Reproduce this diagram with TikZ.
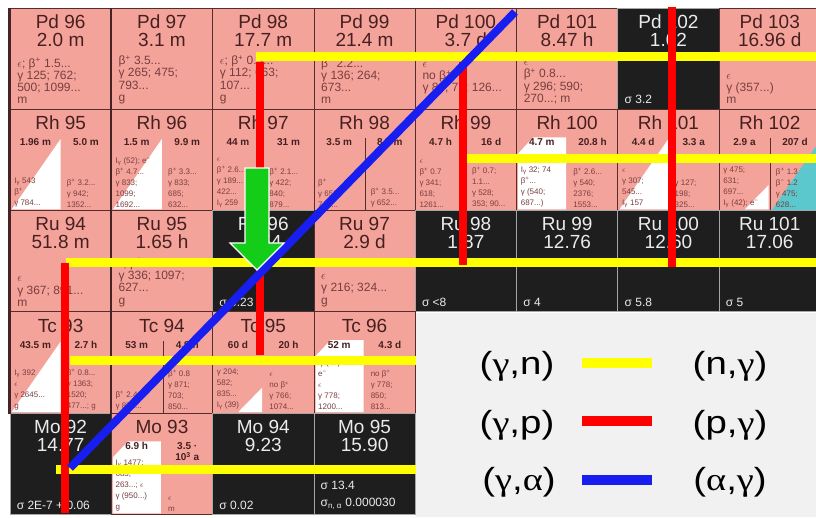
\documentclass[tikz,border=0pt]{standalone}
\usepackage{fontspec}
\setmainfont{Liberation Sans}
\newfontfamily\greekfont{Liberation Serif}
\usepackage{graphicx}
\usetikzlibrary{calc}

\definecolor{chartpink}{RGB}{244,163,155}
\definecolor{chartblack}{RGB}{30,30,30}
\definecolor{chartcyan}{RGB}{90,200,205}
\definecolor{cellline}{RGB}{85,45,45}
\definecolor{inkdark}{RGB}{70,32,32}
\definecolor{inksoft}{RGB}{120,62,62}
\definecolor{stabletext}{RGB}{235,235,235}
\definecolor{pathyellow}{RGB}{255,255,0}
\definecolor{pathred}{RGB}{255,0,0}
\definecolor{pathblue}{RGB}{25,30,240}
\definecolor{arrowgreen}{RGB}{20,205,25}
\definecolor{legendbg}{RGB}{241,241,241}

\newcommand{\bplus}{β\textsuperscript{+}}
\newcommand{\bminus}{β\textsuperscript{−}}
\newcommand{\eminus}{e\textsuperscript{−}}
\newcommand{\epsl}{$\epsilon$}
\newcommand{\itrans}{I\textsubscript{γ}}
\newcommand{\legtext}[1]{\scalebox{1.2}[1]{#1}}

\tikzset{
  cellbox/.style={draw=cellline, line width=0.8pt, fill=chartpink,
    minimum width=101.3pt, minimum height=101.3pt, inner sep=0pt},
  stablebox/.style={cellbox, draw=gray!70, fill=chartblack},
  nuclide/.style={inner sep=0pt, text=inkdark, font=\fontsize{19}{21}\selectfont},
  halflife/.style={inner sep=0pt, anchor=north, align=center, text=inkdark,
    font=\bfseries\fontsize{10}{11.5}\selectfont},
  decaytext/.style={inner sep=0pt, anchor=south west, align=left, text=inksoft,
    font=\fontsize{12}{12.3}\selectfont},
  isodecay/.style={decaytext, font=\fontsize{8}{11}\selectfont},
  sigmatext/.style={decaytext, text=stabletext},
  magic/.style={draw=cellline!80!black, line width=2.5pt},
  gnpath/.style={draw=pathyellow, line width=9pt},
  gppath/.style={draw=pathred, line width=8pt},
  gapath/.style={draw=pathblue, line width=8pt},
  legend/.style={inner sep=0pt, font=\fontsize{32}{36}\selectfont},
}

% col, row, name, nuclide, half-life, decay lines
\newcommand{\unstablecell}[6]{%
  \node[cellbox] (#3) at ({60.65+101.3*#1},{458.35-101.3*#2}) {};
  \node[nuclide] (#3-name) at ([yshift=-14pt]#3.north) {#4};
  \node[nuclide] (#3-life) at ([yshift=-32pt]#3.north) {#5};
  \node[decaytext] (#3-decay) at ([xshift=7.5pt,yshift=5.5pt]#3.south west) {#6};
}
% col, row, name, nuclide, abundance, cross section
\newcommand{\stablecell}[6]{%
  \node[stablebox] (#3) at ({60.65+101.3*#1},{458.35-101.3*#2}) {};
  \node[nuclide, text=stabletext] (#3-name) at ([yshift=-14pt]#3.north) {#4};
  \node[nuclide, text=stabletext] (#3-abund) at ([yshift=-32pt]#3.north) {#5};
  \node[sigmatext] (#3-sigma) at ([xshift=7pt,yshift=5.5pt]#3.south west) {#6};
}
% col, row, name, nuclide, isomer, ground state, isomer decay, ground decay, extras
\newcommand{\isomercell}[9]{%
  \node[cellbox] (#3) at ({60.65+101.3*#1},{458.35-101.3*#2}) {};
  #9
  \node[nuclide] (#3-name) at ([yshift=-14pt]#3.north) {#4};
  \node[halflife] (#3-iso) at ([xshift=-25.3pt,yshift=-29.5pt]#3.north) {#5};
  \node[halflife] (#3-gs) at ([xshift=25.3pt,yshift=-29.5pt]#3.north) {#6};
  \node[isodecay] (#3-isodecay) at ([xshift=4.5pt,yshift=3.5pt]#3.south west) {#7};
  \node[isodecay] (#3-gsdecay) at ([xshift=6pt,yshift=3.5pt]#3.south) {#8};
}
\newcommand{\lowtri}[1]{\fill[white] ($(#1.south west)+(2,1.5)$) -- ($(#1.south west)+(51,72)$) -- ($(#1.south west)+(51,1.5)$) -- cycle;}
\newcommand{\smalltri}[1]{\fill[white] ($(#1.south west)+(26,1.5)$) -- ($(#1.south west)+(50,26)$) -- ($(#1.south west)+(50,1.5)$) -- cycle;}
\newcommand{\cutrect}[1]{\fill[white] ($(#1.south west)+(2,1.5)$) -- ++(0,56) -- ++(15,16) -- ($(#1.south west)+(50,73.5)$) -- ($(#1.south west)+(50,1.5)$) -- cycle;}
\newcommand{\halfline}[1]{\draw[cellline, line width=0.6pt] ($(#1.south west)+(52,0)$) -- ++(0,73);}

\begin{document}
\begin{tikzpicture}[x=1pt,y=1pt]
\useasboundingbox (0,0) rectangle (816,517);
\fill[white] (0,0) rectangle (816,517);

% Pd
\unstablecell{0}{0}{pd96}{Pd 96}{2.0 m}{\epsl; \bplus{} 1.5...\\γ 125; 762;\\500; 1099...\\m}
\unstablecell{1}{0}{pd97}{Pd 97}{3.1 m}{\bplus{} 3.5...\\γ 265; 475;\\793...\\g}
\unstablecell{2}{0}{pd98}{Pd 98}{17.7 m}{\epsl; \bplus{} 0.9...\\γ 112; 663;\\107...\\g}
\unstablecell{3}{0}{pd99}{Pd 99}{21.4 m}{\bplus{} 2.2...\\γ 136; 264;\\673...\\m}
\unstablecell{4}{0}{pd100}{Pd 100}{3.7 d}{\epsl\\no \bplus\\γ 84; 75; 126...\\\mbox{}}
\unstablecell{5}{0}{pd101}{Pd 101}{8.47 h}{\epsl\\\bplus{} 0.8...\\γ 296; 590;\\270...; m}
\stablecell{6}{0}{pd102}{Pd 102}{1.02}{σ 3.2}
\unstablecell{7}{0}{pd103}{Pd 103}{16.96 d}{\epsl\\γ (357...)\\m}

% Rh
\isomercell{0}{1}{rh95}{Rh 95}{1.96 m}{5.0 m}{\itrans{} 543\\\bplus\\γ 784...}{\bplus{} 3.2...\\γ 942;\\1352...}{\lowtri{rh95}}
\isomercell{1}{1}{rh96}{Rh 96}{1.5 m}{9.9 m}{\itrans{} (52); \eminus\\\bplus{} 4.7...\\γ 833;\\1099;\\1692...}{\bplus{} 3.3...\\γ 833;\\685;\\632...}{\lowtri{rh96}}
\isomercell{2}{1}{rh97}{Rh 97}{44 m}{31 m}{\epsl\\\bplus{} 2.6...\\γ 189...\\422...\\\itrans{} 259}{\bplus{} 2.1...\\γ 422;\\840;\\879...}{}
\isomercell{3}{1}{rh98}{Rh 98}{3.5 m}{8.7 m}{\bplus\\γ 652;\\745...}{\bplus{} 3.5...\\γ 652...}{\halfline{rh98}}
\isomercell{4}{1}{rh99}{Rh 99}{4.7 h}{16 d}{\epsl\\\bplus{} 0.7\\γ 341;\\618;\\1261...}{\bplus{} 0.7;\\1.1...\\γ 528;\\353; 90...}{}
\isomercell{5}{1}{rh100}{Rh 100}{4.7 m}{20.8 h}{\itrans{} 32; 74\\\bplus...\\γ (540;\\687...)}{\bplus{} 2.6...\\γ 540;\\2376;\\1553...}{\cutrect{rh100}}
\isomercell{6}{1}{rh101}{Rh 101}{4.4 d}{3.3 a}{\epsl\\γ 307;\\545...\\\itrans{} 157}{γ 127;\\198;\\325...}{\lowtri{rh101}}
\isomercell{7}{1}{rh102}{Rh 102}{2.9 a}{207 d}{γ 475;\\631;\\697...\\\itrans{} (42); \eminus}{\bplus{} 1.3\\\bminus{} 1.2\\γ 475;\\628...}{\smalltri{rh102}
  \fill[chartcyan] ($(rh102.south west)+(53,1)$) -- ($(rh102.south west)+(101,70)$) -- ($(rh102.south west)+(101,1)$) -- cycle;
  \halfline{rh102}}

% Ru
\unstablecell{0}{2}{ru94}{Ru 94}{51.8 m}{\epsl\\γ 367; 891...\\m}
\unstablecell{1}{2}{ru95}{Ru 95}{1.65 h}{\epsl; \bplus{} 1.2...\\γ 336; 1097;\\627...\\g}
\stablecell{2}{2}{ru96}{Ru 96}{5.54}{σ 0.23}
\unstablecell{3}{2}{ru97}{Ru 97}{2.9 d}{\epsl\\γ 216; 324...\\g}
\stablecell{4}{2}{ru98}{Ru 98}{1.87}{σ <8}
\stablecell{5}{2}{ru99}{Ru 99}{12.76}{σ 4}
\stablecell{6}{2}{ru100}{Ru 100}{12.60}{σ 5.8}
\stablecell{7}{2}{ru101}{Ru 101}{17.06}{σ 5}

% Tc
\isomercell{0}{3}{tc93}{Tc 93}{43.5 m}{2.7 h}{\itrans{} 392\\\epsl\\γ 2645...\\g}{\bplus{} 0.8...\\γ 1363;\\1520;\\477...; g}{\lowtri{tc93}}
\isomercell{1}{3}{tc94}{Tc 94}{53 m}{4.9 h}{\bplus{} 2.4...\\γ 871...}{\bplus{} 0.8\\γ 871;\\703;\\850...}{\halfline{tc94}}
\isomercell{2}{3}{tc95}{Tc 95}{60 d}{20 h}{γ 204;\\582;\\835...\\\itrans{} (39)}{\epsl\\no \bplus\\γ 766;\\1074...}{\smalltri{tc95}}
\isomercell{3}{3}{tc96}{Tc 96}{52 m}{4.3 d}{\itrans{} (34)\\\eminus\\\epsl\\γ 778;\\1200...}{\epsl\\no \bplus\\γ 778;\\850;\\813...}{\cutrect{tc96}}

% Mo
\stablecell{0}{4}{mo92}{Mo 92}{14.77}{σ 2E-7 + 0.06}
\isomercell{1}{4}{mo93}{Mo 93}{6.9 h}{3.5 ·\\10\textsuperscript{3} a}{\itrans{} 1477;\\685;\\263...; \epsl\\γ (950...)\\g}{\epsl\\m}{\cutrect{mo93}}
\stablecell{2}{4}{mo94}{Mo 94}{9.23}{σ 0.02}
\stablecell{3}{4}{mo95}{Mo 95}{15.90}{σ 13.4\\[5pt]σ\textsubscript{n, α} 0.000030}

\draw[magic] (pd96.north west) -- (tc93.south west);
\draw[magic] (pd97.north west) -- (tc94.south west);

% legend
\fill[legendbg] (416,0) rectangle (816,204);
\node[legend] (gn-left) at (517,151) {\legtext{({\greekfont γ},n)}};
\node[legend] (gn-right) at (730,151) {\legtext{(n,{\greekfont γ})}};
\node[legend] (gp-left) at (517,92) {\legtext{({\greekfont γ},p)}};
\node[legend] (gp-right) at (730,92) {\legtext{(p,{\greekfont γ})}};
\node[legend] (ga-left) at (519,35) {\legtext{({\greekfont γ},{\greekfont α})}};
\node[legend] (ga-right) at (730,35) {\legtext{({\greekfont α},{\greekfont γ})}};
\coordinate (gn-key-a) at (582,154);
\coordinate (gn-key-b) at (652,154);
\coordinate (gp-key-a) at (582,96);
\coordinate (gp-key-b) at (652,96);
\coordinate (ga-key-a) at (582,37);
\coordinate (ga-key-b) at (652,37);
\draw[gnpath, line width=10pt] (gn-key-a) -- (gn-key-b);
\draw[gppath, line width=10pt] (gp-key-a) -- (gp-key-b);
\draw[gapath, line width=10pt] (ga-key-a) -- (ga-key-b);

% reaction paths
\coordinate (gn1a) at (256,460);
\coordinate (gn1b) at (816,460);
\coordinate (gn2a) at (459,358);
\coordinate (gn2b) at (816,358);
\coordinate (gn3a) at (66,254);
\coordinate (gn3b) at (816,254);
\coordinate (gn4a) at (70,157);
\coordinate (gn4b) at (416,157);
\coordinate (gn5a) at (56,48);
\coordinate (gn5b) at (416,48);
\coordinate (gp1a) at (260,455);
\coordinate (gp1b) at (260,162);
\coordinate (gp2a) at (463,455);
\coordinate (gp2b) at (463,252);
\coordinate (gp3a) at (672,510);
\coordinate (gp3b) at (672,250);
\coordinate (gp4a) at (65,254);
\coordinate (gp4b) at (65,4);
\coordinate (ga-a) at (70,49);
\coordinate (ga-b) at (515,505);
\draw[gnpath] (gn1a) -- (gn1b);
\draw[gnpath] (gn2a) -- (gn2b);
\draw[gnpath] (gn3a) -- (gn3b);
\draw[gnpath] (gn4a) -- (gn4b);
\draw[gnpath] (gn5a) -- (gn5b);
\draw[gppath] (gp1a) -- (gp1b);
\draw[gppath] (gp2a) -- (gp2b);
\draw[gppath] (gp3a) -- (gp3b);
\draw[gppath] (gp4a) -- (gp4b);
\draw[gapath] (ga-a) -- (ga-b);

% arrow
\draw[fill=arrowgreen, draw=white, line width=1.2pt]
  (245,349) -- (269,349) -- (269,274) -- (284,274) -- (257,247)
  -- (230,274) -- (245,274) -- cycle;
\end{tikzpicture}
\end{document}
